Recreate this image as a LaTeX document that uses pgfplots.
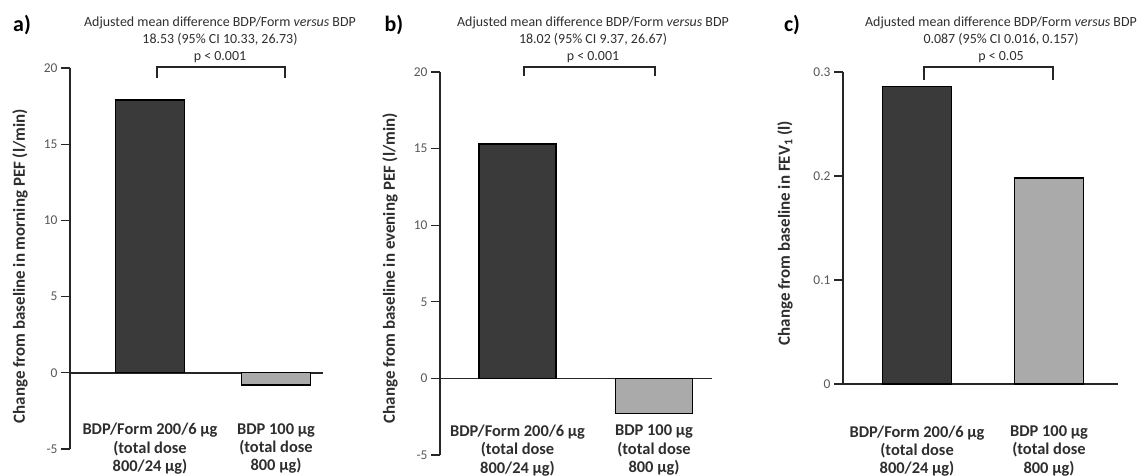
\documentclass[border=0pt]{standalone}
\usepackage{fontspec}
\setmainfont{Carlito}
\usepackage{pgfplots}
\pgfplotsset{compat=1.18}

\definecolor{darkbar}{HTML}{3A3A3A}
\definecolor{lightbar}{HTML}{AAAAAA}
\definecolor{txt}{HTML}{2E2E2E}

\pgfplotsset{
  panel/.style={
    scale only axis,
    anchor=south west,
    axis y line=left,
    axis x line=middle,
    axis line style={-, line width=1.5bp, black!85},
    tick align=outside,
    major tick length=9bp,
    ytick style={line width=1.3bp, black!85},
    xtick style={draw=none},
    xtick={1,2},
    xticklabels={{BDP/Form 200/6 µg\\(total dose\\800/24 µg)},{BDP 100 µg\\(total dose\\800 µg)}},
    xticklabel style={align=center, anchor=north, font=\fontsize{16.5}{18.5}\selectfont\bfseries, text=txt},
    yticklabel style={font=\fontsize{13.5}{15}\selectfont, text=txt!80},
    /pgf/number format/assume math mode=true,
    ylabel style={font=\fontsize{17}{19}\selectfont\bfseries, text=txt, anchor=center},
    ybar,
    bar shift=0pt,
    every axis plot/.append style={draw=black, line width=1.4bp},
    clip=false,
  }
}

\begin{document}
\begin{tikzpicture}[x=1bp,y=1bp]
\useasboundingbox (0,0) rectangle (1138,476);

% ---------- panel a ----------
\begin{axis}[panel, at={(70bp,27bp)}, width=253bp, height=381bp,
  xmin=0.365, xmax=2.373, ymin=-5, ymax=20, ytick={-5,0,5,10,15,20},
  bar width=69bp,
  ylabel={Change from baseline in morning PEF (l/min)},
  ylabel style={at={(axis description cs:-0.198,0.48)}},
  xticklabel style={yshift=-38bp}]
\addplot[fill=darkbar] coordinates {(1,17.9)};
\addplot[fill=lightbar] coordinates {(2,-0.8)};
\end{axis}

% ---------- panel b ----------
\begin{axis}[panel, at={(440bp,21bp)}, width=272bp, height=383bp,
  xmin=0.432, xmax=2.425, ymin=-5, ymax=20, ytick={-5,0,5,10,15,20},
  bar width=77bp,
  ylabel={Change from baseline in evening PEF (l/min)},
  ylabel style={at={(axis description cs:-0.184,0.488)}},
  xticklabel style={yshift=-34bp}]
\addplot[fill=darkbar] coordinates {(1,15.3)};
\addplot[fill=lightbar] coordinates {(2,-2.3)};
\end{axis}

% ---------- panel c ----------
\begin{axis}[panel, at={(843bp,92bp)}, width=275bp, height=312bp,
  xmin=0.439, xmax=2.523, ymin=0, ymax=0.3, ytick={0,0.1,0.2,0.3},
  yticklabel style={/pgf/number format/fixed, /pgf/number format/precision=1},
  bar width=69bp,
  ylabel={Change from baseline in FEV\textsubscript{1} (l)},
  ylabel style={at={(axis description cs:-0.211,0.484)}},
  xticklabel style={yshift=-29bp}]
\addplot[fill=darkbar] coordinates {(1,0.286)};
\addplot[fill=lightbar] coordinates {(2,0.198)};
\end{axis}

% ---------- annotations ----------
\tikzset{ann/.style={align=center, text=txt, font=\fontsize{14}{17}\selectfont},
         plab/.style={font=\fontsize{22}{24}\selectfont\bfseries, text=black}}
\node[plab] at (22,451) {a)};
\node[plab] at (394,451) {b)};
\node[plab] at (792,451) {c)};

\node[ann] at (220,436) {Adjusted mean difference BDP/Form \textit{versus} BDP\\18.53 (95\% CI 10.33, 26.73)\\p < 0.001};
\node[ann] at (593,436) {Adjusted mean difference BDP/Form \textit{versus} BDP\\18.02 (95\% CI 9.37, 26.67)\\p < 0.001};
\node[ann] at (1001,436) {Adjusted mean difference BDP/Form \textit{versus} BDP\\0.087 (95\% CI 0.016, 0.157)\\p < 0.05};

\draw[line width=1.5bp, black!85] (157,398) -- (157,409) -- (285,409) -- (285,398);
\draw[line width=1.5bp, black!85] (524,400) -- (524,409) -- (655,409) -- (655,400);
\draw[line width=1.5bp, black!85] (924,396) -- (924,409) -- (1053,409) -- (1053,396);
\end{tikzpicture}
\end{document}
